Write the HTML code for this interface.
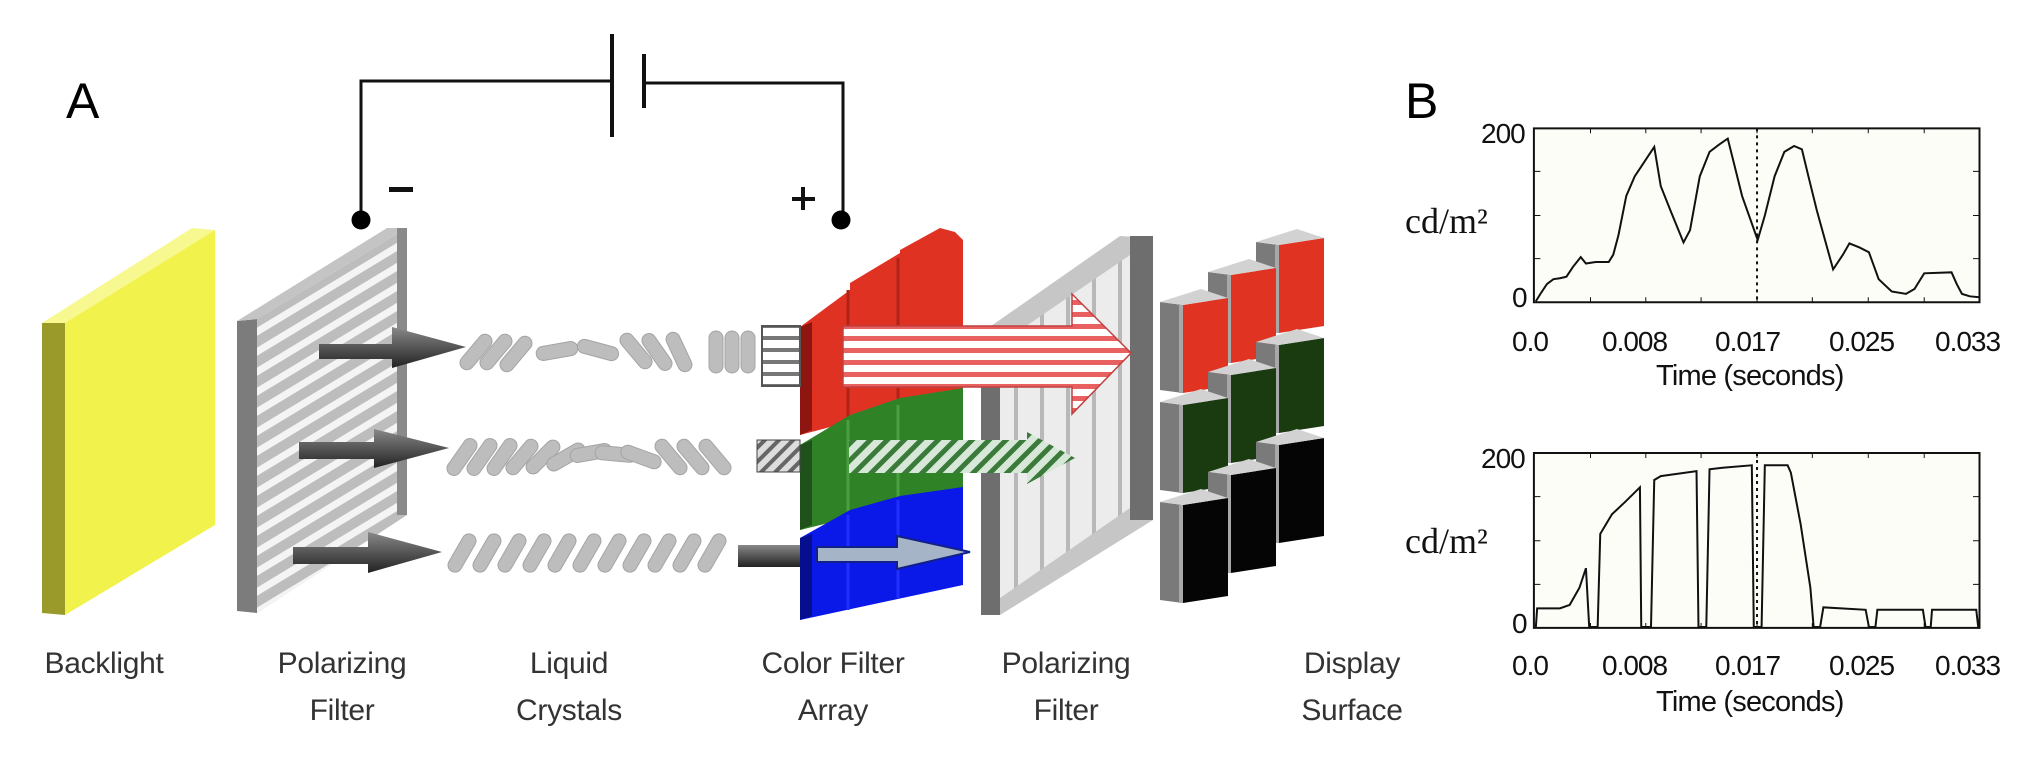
<!DOCTYPE html>
<html><head><meta charset="utf-8"><style>
body{margin:0;background:#fff;}
#w{position:relative;width:2040px;height:768px;overflow:hidden;background:#fff;}
.t{position:absolute;font-family:"Liberation Sans",sans-serif;color:#333;font-size:30px;text-align:center;line-height:47px;white-space:nowrap;letter-spacing:-0.3px;}
.p{position:absolute;font-family:"Liberation Sans",sans-serif;color:#111;font-size:28px;white-space:nowrap;letter-spacing:-1px;}
.q{position:absolute;font-family:"Liberation Sans",sans-serif;color:#111;font-size:29px;white-space:nowrap;letter-spacing:-0.8px;}
.s{position:absolute;font-family:"Liberation Serif",serif;color:#111;font-size:36px;white-space:nowrap;}
</style></head><body><div id="w">
<svg width="2040" height="768" style="position:absolute;left:0;top:0" overflow="visible">
<defs>
<linearGradient id="ag" x1="0" y1="0" x2="0" y2="1"><stop offset="0" stop-color="#888"/><stop offset="0.5" stop-color="#555"/><stop offset="1" stop-color="#222"/></linearGradient>
<pattern id="rs" width="10" height="12" patternUnits="userSpaceOnUse"><rect width="10" height="12" fill="#fff"/><rect y="0" width="10" height="5" fill="#e86060"/></pattern>
<pattern id="gs" width="12" height="12" patternUnits="userSpaceOnUse" patternTransform="rotate(45)"><rect width="12" height="12" fill="#d8e8d8"/><rect width="5" height="12" fill="#3a7a3a"/></pattern>
<pattern id="ks" width="10" height="10" patternUnits="userSpaceOnUse" patternTransform="rotate(45)"><rect width="10" height="10" fill="#ddd"/><rect width="4" height="10" fill="#666"/></pattern>
<pattern id="ws" width="10" height="12" patternUnits="userSpaceOnUse"><rect width="10" height="12" fill="#fff"/><rect width="10" height="4" fill="#777"/></pattern>
<pattern id="vs" width="26" height="10" patternUnits="userSpaceOnUse"><rect width="26" height="10" fill="#ececec"/><rect width="4" height="10" fill="#b8b8b8"/></pattern>
<clipPath id="pf"><polygon points="257,319 407,228 407,515 257,613"/></clipPath>
<g id="c1">
<polygon points="-23,-3 0,0 0,88 -23,85" fill="#7a7a7a"/>
<rect x="-4" y="0" width="4" height="88" fill="#a8a8a8"/>
<polygon points="0,0 45,-7 45,81 0,88"/>
<polygon points="-23,-3 18,-16 45,-7 0,0" fill="#d2d2d2"/>
</g>
<g id="c2">
<polygon points="-23,-3 0,0 0,98 -23,95" fill="#7a7a7a"/>
<rect x="-4" y="0" width="4" height="98" fill="#a8a8a8"/>
<polygon points="0,0 45,-7 45,91 0,98"/>
<polygon points="-23,-3 18,-16 45,-7 0,0" fill="#d2d2d2"/>
</g>
</defs>
<path d="M361,220 V81 H612 M644,83 H843 V220" fill="none" stroke="#111" stroke-width="3"/>
<line x1="612" y1="34" x2="612" y2="137" stroke="#111" stroke-width="4"/>
<line x1="644" y1="54" x2="644" y2="108" stroke="#111" stroke-width="4"/>
<circle cx="361" cy="220" r="9.5" fill="#000"/><circle cx="841" cy="220" r="9.5" fill="#000"/>
<rect x="389" y="187" width="24" height="5" fill="#111"/>
<path d="M803,187 V210 M792,199 H815" stroke="#111" stroke-width="4"/>
<polygon points="42,323 65,318 65,615 42,613" fill="#9a9a2a"/>
<polygon points="42,323 192,228 215,230 65,323" fill="#f8f890"/>
<polygon points="65,323 215,230 215,525 65,615" fill="#f2f24c"/>
<polygon points="237,321 257,319 257,613 237,611" fill="#7c7c7c"/>
<polygon points="237,321 387,228 407,228 257,319" fill="#c4c4c4"/>
<polygon points="257,319 407,228 407,515 257,613" fill="#bdbdbd"/>
<g clip-path="url(#pf)" stroke-width="7">
<g stroke="#f4f4f4">
<line x1="250" y1="336" x2="420" y2="233"/><line x1="250" y1="356" x2="420" y2="253"/><line x1="250" y1="376" x2="420" y2="273"/><line x1="250" y1="396" x2="420" y2="293"/><line x1="250" y1="416" x2="420" y2="313"/><line x1="250" y1="436" x2="420" y2="333"/><line x1="250" y1="456" x2="420" y2="353"/><line x1="250" y1="476" x2="420" y2="373"/><line x1="250" y1="496" x2="420" y2="393"/><line x1="250" y1="516" x2="420" y2="413"/><line x1="250" y1="536" x2="420" y2="433"/><line x1="250" y1="556" x2="420" y2="453"/><line x1="250" y1="576" x2="420" y2="473"/><line x1="250" y1="596" x2="420" y2="493"/><line x1="250" y1="616" x2="420" y2="513"/>
</g></g>
<rect x="397" y="228" width="10" height="287" fill="#8a8a8a"/>
<g fill="url(#ag)">
<polygon points="319,344 392,344 392,327 466,347 392,368 392,359 319,359"/>
<polygon points="299,442 374,442 374,429 449,448 374,468 374,459 299,459"/>
<polygon points="293,547 368,547 368,532 442,552 368,573 368,564 293,564"/>
</g>
<g fill="#bdbdbd" stroke="#a4a4a4" stroke-width="1">
<g transform="translate(0,352)">
<rect x="-7" y="-21" width="14" height="42" rx="7" transform="translate(476,0) rotate(40)"/>
<rect x="-7" y="-21" width="14" height="42" rx="7" transform="translate(496,0) rotate(40)"/>
<rect x="-7" y="-21" width="14" height="42" rx="7" transform="translate(516,2) rotate(40)"/>
<rect x="-7" y="-21" width="14" height="42" rx="7" transform="translate(557,-1) rotate(80)"/>
<rect x="-7" y="-21" width="14" height="42" rx="7" transform="translate(598,-2) rotate(105)"/>
<rect x="-7" y="-21" width="14" height="42" rx="7" transform="translate(636,-1) rotate(-40)"/>
<rect x="-7" y="-21" width="14" height="42" rx="7" transform="translate(657,0) rotate(-35)"/>
<rect x="-7" y="-21" width="14" height="42" rx="7" transform="translate(679,0) rotate(-25)"/>
<rect x="-7" y="-21" width="14" height="42" rx="7" transform="translate(716,0)"/>
<rect x="-7" y="-21" width="14" height="42" rx="7" transform="translate(732,0)"/>
<rect x="-7" y="-21" width="14" height="42" rx="7" transform="translate(748,0)"/>
</g>
<g transform="translate(0,457)">
<rect x="-7" y="-21" width="14" height="42" rx="7" transform="translate(462,0) rotate(35)"/>
<rect x="-7" y="-21" width="14" height="42" rx="7" transform="translate(482,0) rotate(35)"/>
<rect x="-7" y="-21" width="14" height="42" rx="7" transform="translate(502,0) rotate(35)"/>
<rect x="-7" y="-21" width="14" height="42" rx="7" transform="translate(522,0) rotate(40)"/>
<rect x="-7" y="-21" width="14" height="42" rx="7" transform="translate(543,0) rotate(45)"/>
<rect x="-7" y="-21" width="14" height="42" rx="7" transform="translate(566,0) rotate(60)"/>
<rect x="-7" y="-21" width="14" height="42" rx="7" transform="translate(591,-4) rotate(80)"/>
<rect x="-7" y="-21" width="14" height="42" rx="7" transform="translate(616,-3) rotate(95)"/>
<rect x="-7" y="-21" width="14" height="42" rx="7" transform="translate(641,0) rotate(110)"/>
<rect x="-7" y="-21" width="14" height="42" rx="7" transform="translate(671,0) rotate(-40)"/>
<rect x="-7" y="-21" width="14" height="42" rx="7" transform="translate(693,0) rotate(-40)"/>
<rect x="-7" y="-21" width="14" height="42" rx="7" transform="translate(715,0) rotate(-40)"/>
</g>
<g transform="translate(0,553)">
<rect x="-7" y="-21" width="14" height="42" rx="7" transform="translate(462,0) rotate(30)"/>
<rect x="-7" y="-21" width="14" height="42" rx="7" transform="translate(487,0) rotate(30)"/>
<rect x="-7" y="-21" width="14" height="42" rx="7" transform="translate(512,0) rotate(30)"/>
<rect x="-7" y="-21" width="14" height="42" rx="7" transform="translate(537,0) rotate(30)"/>
<rect x="-7" y="-21" width="14" height="42" rx="7" transform="translate(562,0) rotate(30)"/>
<rect x="-7" y="-21" width="14" height="42" rx="7" transform="translate(587,0) rotate(30)"/>
<rect x="-7" y="-21" width="14" height="42" rx="7" transform="translate(612,0) rotate(30)"/>
<rect x="-7" y="-21" width="14" height="42" rx="7" transform="translate(637,0) rotate(30)"/>
<rect x="-7" y="-21" width="14" height="42" rx="7" transform="translate(662,0) rotate(30)"/>
<rect x="-7" y="-21" width="14" height="42" rx="7" transform="translate(687,0) rotate(30)"/>
<rect x="-7" y="-21" width="14" height="42" rx="7" transform="translate(712,0) rotate(30)"/>
</g>
</g>
<polygon points="800,327 850,290 850,283 900,253 900,250 940,228 955,232 963,240 963,392 800,435" fill="#e03222"/>
<polygon points="800,327 812,322 812,430 800,435" fill="#8e1510"/>
<line x1="848" y1="290" x2="848" y2="420" stroke="#b02418" stroke-width="3"/>
<line x1="898" y1="258" x2="898" y2="408" stroke="#b02418" stroke-width="3"/>
<polygon points="800,445 850,415 900,398 963,388 963,490 800,530" fill="#2f8326"/>
<polygon points="800,445 812,440 812,525 800,530" fill="#1f521a"/>
<line x1="848" y1="420" x2="848" y2="515" stroke="#4aa040" stroke-width="3"/>
<line x1="898" y1="405" x2="898" y2="505" stroke="#4aa040" stroke-width="3"/>
<polygon points="800,538 850,510 900,496 963,487 963,585 800,620" fill="#0a18e8"/>
<polygon points="800,538 812,534 812,616 800,620" fill="#060e90"/>
<line x1="848" y1="515" x2="848" y2="610" stroke="#2030ff" stroke-width="3"/>
<line x1="898" y1="500" x2="898" y2="598" stroke="#2030ff" stroke-width="3"/>
<rect x="762" y="326" width="38" height="60" fill="url(#ws)" stroke="#555" stroke-width="2"/>
<rect x="757" y="440" width="43" height="32" fill="url(#ks)" stroke="#444" stroke-width="1"/>
<rect x="738" y="545" width="62" height="22" fill="url(#ag)"/>
<polygon points="981,333 1120,236 1153,238 1153,520 1000,615 981,613" fill="#c6c6c6"/>
<polygon points="1000,344 1130,255 1130,508 1000,598" fill="url(#vs)"/>
<rect x="981" y="333" width="19" height="282" fill="#6e6e6e"/>
<rect x="1130" y="236" width="23" height="284" fill="#6e6e6e"/>
<polygon points="843,326 1072,326 1072,294 1131,353 1072,414 1072,387 843,387" fill="url(#rs)" stroke="#c04040" stroke-width="1.5"/>
<polygon points="849,440 1027,440 1027,432 1075,458 1027,484 1027,473 849,473" fill="url(#gs)"/>
<polygon points="817,547 897,547 897,536 970,552 897,569 897,562 817,562" fill="#a6b4c8" stroke="#12208a" stroke-width="2"/>
<use href="#c1" transform="translate(1279,245)" fill="#e03322"/>
<use href="#c1" transform="translate(1231,275)" fill="#e03322"/>
<use href="#c1" transform="translate(1183,305)" fill="#e03322"/>
<use href="#c1" transform="translate(1279,345)" fill="#1a3a10"/>
<use href="#c1" transform="translate(1231,375)" fill="#1a3a10"/>
<use href="#c1" transform="translate(1183,405)" fill="#1a3a10"/>
<use href="#c2" transform="translate(1279,445)" fill="#050505"/>
<use href="#c2" transform="translate(1231,475)" fill="#050505"/>
<use href="#c2" transform="translate(1183,505)" fill="#050505"/>
</svg>
<svg style="position:absolute;left:1020px;top:0" width="1020" height="768" viewBox="0 0 1568 1568" preserveAspectRatio="none">
<g fill="#fdfdf8" stroke="#111" stroke-width="2">
<rect x="790" y="262" width="685" height="355" vector-effect="non-scaling-stroke"/>
<rect x="790" y="925" width="685" height="357" vector-effect="non-scaling-stroke"/>
</g>
<g stroke="#111" stroke-width="1" fill="none">
<path vector-effect="non-scaling-stroke" d="M877,262v10M962,262v10M1047,262v10M1133,262v10M1218,262v10M1304,262v10M1390,262v10M877,617v-10M962,617v-10M1047,617v-10M1133,617v-10M1218,617v-10M1304,617v-10M1390,617v-10M790,350h10M790,440h10M790,528h10M1475,350h-10M1475,440h-10M1475,528h-10"/>
<path vector-effect="non-scaling-stroke" d="M877,925v10M962,925v10M1047,925v10M1133,925v10M1218,925v10M1304,925v10M1390,925v10M877,1282v-10M962,1282v-10M1047,1282v-10M1133,1282v-10M1218,1282v-10M1304,1282v-10M1390,1282v-10M790,1014h10M790,1104h10M790,1193h10M1475,1014h-10M1475,1104h-10M1475,1193h-10"/>
<path vector-effect="non-scaling-stroke" stroke-width="2" d="M793,615 L800,600 810,580 820,570 830,568 840,565 850,545 862,525 870,538 885,535 905,535 912,520 920,480 932,400 945,360 955,340 965,320 975,300 985,380 1000,430 1020,495 1030,470 1045,360 1060,310 1075,295 1088,283 1095,320 1110,400 1134,490 1145,440 1160,360 1175,310 1190,298 1202,305 1212,360 1225,430 1250,550 1265,520 1275,497 1290,505 1305,515 1320,570 1340,595 1362,600 1375,590 1390,558 1432,556 1440,580 1448,600 1460,605 1475,607"/>
<path vector-effect="non-scaling-stroke" stroke-width="2" d="M793,1280 L795,1242 830,1242 845,1235 860,1200 870,1160 875,1280 888,1280 892,1090 910,1050 930,1025 953,995 955,1280 970,1280 975,980 985,972 1040,962 1043,1280 1055,1280 1060,958 1080,955 1125,950 1128,1280 1140,1280 1145,950 1180,950 1185,965 1200,1070 1215,1200 1220,1280 1230,1280 1235,1240 1300,1245 1305,1280 1315,1280 1318,1245 1388,1245 1392,1280 1400,1280 1402,1245 1470,1245 1473,1280"/>
<path vector-effect="non-scaling-stroke" stroke-width="2" stroke-dasharray="3,4" d="M1133,262V617M1133,925V1282"/>
</g>
</svg>
<div style="position:absolute;left:66px;top:72px;font-family:'Liberation Sans',sans-serif;font-size:50px;color:#000">A</div>
<div style="position:absolute;left:1405px;top:72px;font-family:'Liberation Sans',sans-serif;font-size:50px;color:#000">B</div>
<div class="t" style="left:24px;top:640px;width:160px">Backlight</div>
<div class="t" style="left:252px;top:640px;width:180px">Polarizing<br>Filter</div>
<div class="t" style="left:484px;top:640px;width:170px">Liquid<br>Crystals</div>
<div class="t" style="left:733px;top:640px;width:200px">Color Filter<br>Array</div>
<div class="t" style="left:976px;top:640px;width:180px">Polarizing<br>Filter</div>
<div class="t" style="left:1272px;top:640px;width:160px">Display<br>Surface</div>
<div class="p" style="left:1481px;top:118px">200</div>
<div class="p" style="left:1512px;top:282px">0</div>
<div class="p" style="left:1512px;top:326px">0.0</div>
<div class="p" style="left:1602px;top:326px">0.008</div>
<div class="p" style="left:1715px;top:326px">0.017</div>
<div class="p" style="left:1829px;top:326px">0.025</div>
<div class="p" style="left:1935px;top:326px">0.033</div>
<div class="q" style="left:1656px;top:360px">Time (seconds)</div>
<div class="s" style="left:1405px;top:200px">cd/m²</div>
<div class="p" style="left:1481px;top:443px">200</div>
<div class="p" style="left:1512px;top:608px">0</div>
<div class="p" style="left:1512px;top:650px">0.0</div>
<div class="p" style="left:1602px;top:650px">0.008</div>
<div class="p" style="left:1715px;top:650px">0.017</div>
<div class="p" style="left:1829px;top:650px">0.025</div>
<div class="p" style="left:1935px;top:650px">0.033</div>
<div class="q" style="left:1656px;top:686px">Time (seconds)</div>
<div class="s" style="left:1405px;top:520px">cd/m²</div>
</div></body></html>
